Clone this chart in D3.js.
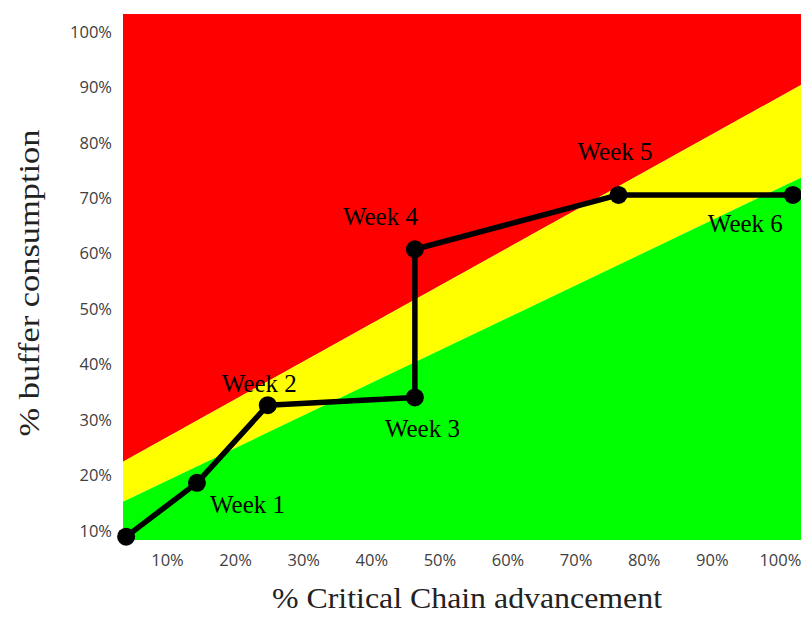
<!DOCTYPE html>
<html><head><meta charset="utf-8">
<script src="https://cdn.jsdelivr.net/npm/d3@7"></script>
<style>html,body{margin:0;padding:0;background:#fff;}</style>
</head><body>
<svg id="chart" width="801" height="617"></svg>
<script>
// ---- data ----
const weeks = ["", "Week 1", "Week 2", "Week 3", "Week 4", "Week 5", "Week 6"];
const advancement = [4.0, 14.4, 24.8, 46.4, 46.4, 76.3, 101.9];   // % critical chain
const consumption = [9.0, 18.7, 32.7, 34.1, 60.8, 70.6, 70.6];    // % buffer consumption
const zoneX = [3.54, 103.1];             // x extent of the zone boundaries
const redLimit = [22.5, 90.4];           // red/yellow boundary at zoneX ends
const greenLimit = [15.3, 73.7];         // yellow/green boundary at zoneX ends
const xTicks = [10, 20, 30, 40, 50, 60, 70, 80, 90, 100];
const yTicks = [10, 20, 30, 40, 50, 60, 70, 80, 90, 100];
const xTitle = "% Critical Chain advancement";
const yTitle = "% buffer consumption";

// ---- layout ----
const plot = {left: 123, right: 801, top: 14, bottom: 540};
const x = d3.scaleLinear().domain([zoneX[0], zoneX[1]]).range([plot.left, plot.right]);
const y = d3.scaleLinear().domain([8.4, 103.2]).range([plot.bottom, plot.top]);

const svg = d3.select("#chart");

// zones
const xMin = zoneX[0], xMax = zoneX[1], yMin = y.domain()[0], yMax = y.domain()[1];
const poly = d3.line().x(d => x(d[0])).y(d => y(d[1]));
svg.append("path").attr("fill", "#ff0000")
  .attr("d", poly([[xMin, yMax], [xMax, yMax], [xMax, redLimit[1]], [xMin, redLimit[0]]]) + "Z");
svg.append("path").attr("fill", "#ffff00")
  .attr("d", poly([[xMin, redLimit[0]], [xMax, redLimit[1]], [xMax, greenLimit[1]], [xMin, greenLimit[0]]]) + "Z");
svg.append("path").attr("fill", "#00ff00")
  .attr("d", poly([[xMin, greenLimit[0]], [xMax, greenLimit[1]], [xMax, yMin], [xMin, yMin]]) + "Z");

// axes (labels only)
const tickFont = "'Open Sans', sans-serif";
const yAxis = svg.append("g").attr("transform", `translate(${plot.left},0)`)
  .call(d3.axisLeft(y).tickValues(yTicks).tickFormat(d => d + "%").tickSize(0).tickPadding(11));
const xAxis = svg.append("g").attr("transform", `translate(0,${plot.bottom})`)
  .call(d3.axisBottom(x).tickValues(xTicks).tickFormat(d => d + "%").tickSize(0).tickPadding(14));
[xAxis, yAxis].forEach(g => {
  g.select(".domain").remove();
  g.selectAll("text").attr("font-family", tickFont).attr("font-size", 16.5).attr("fill", "#404040");
});

// series line
const line = d3.line().x((d, i) => x(advancement[i])).y((d, i) => y(consumption[i]));
svg.append("path").datum(consumption).attr("d", line)
  .attr("fill", "none").attr("stroke", "#000").attr("stroke-width", 5.5).attr("stroke-linejoin", "round");
svg.selectAll("circle.pt").data(consumption).join("circle").attr("class", "pt")
  .attr("cx", (d, i) => x(advancement[i])).attr("cy", d => y(d)).attr("r", 9).attr("fill", "#000");

// week labels (offsets from points)
const labelOffset = [null, [13, 30], [-46, -13], [-30, 40], [-72, -24], [-41, -35], [-85, 37]];
weeks.forEach((w, i) => {
  if (!w) return;
  svg.append("text").text(w)
    .attr("x", x(advancement[i]) + labelOffset[i][0])
    .attr("y", y(consumption[i]) + labelOffset[i][1])
    .attr("font-family", "'Liberation Serif', 'Times New Roman', serif")
    .attr("font-size", 25).attr("fill", "#000");
});

// axis titles
svg.append("text").text(xTitle)
  .attr("x", 467).attr("y", 608).attr("text-anchor", "middle")
  .attr("font-family", "'Liberation Serif', 'Times New Roman', serif")
  .attr("font-size", 29).attr("fill", "#222")
  .attr("textLength", 390).attr("lengthAdjust", "spacingAndGlyphs");
svg.append("text").text(yTitle)
  .attr("transform", "translate(39,283) rotate(-90)").attr("text-anchor", "middle")
  .attr("font-family", "'Liberation Serif', 'Times New Roman', serif")
  .attr("font-size", 30).attr("fill", "#222")
  .attr("textLength", 307).attr("lengthAdjust", "spacingAndGlyphs");
</script>
</body></html>
